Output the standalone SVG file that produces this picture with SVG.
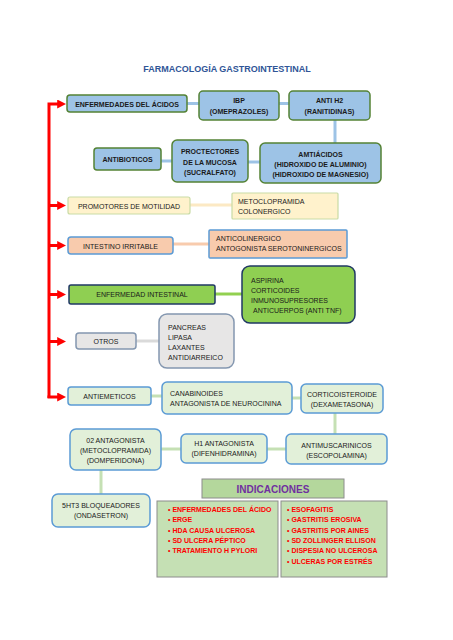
<svg xmlns="http://www.w3.org/2000/svg" width="453" height="640" viewBox="0 0 453 640">
<defs>
<marker id="ah" viewBox="0 0 10 10" refX="2" refY="5" markerWidth="3" markerHeight="3" markerUnits="strokeWidth" orient="auto">
<path d="M0,0 L10,5 L0,10 z" fill="#FF0000"/>
</marker>
<style>
text{font-family:"Liberation Sans",Arial,sans-serif;font-size:7px;fill:#1a1a1a}
.c{text-anchor:middle}
.b{font-weight:bold}
.acid rect{fill:#9DC3E6;stroke:#548235;stroke-width:1.5}
.prom rect{fill:#FFF2CC;stroke:#C9DBA5;stroke-width:1.2}
.irr rect{fill:#F8CBAD;stroke:#5B9BD5;stroke-width:1.5}
.ei rect{fill:#8FCF52;stroke:#203864;stroke-width:1.5}
.ot rect{fill:#E7E6E6;stroke:#8497B0;stroke-width:1.5}
.ae rect{fill:#E2F0D9;stroke:#5B9BD5;stroke-width:1.5}
.ind rect{fill:#C5E0B4;stroke:#8C8C8C;stroke-width:1}
.red{fill:#FF0000;font-weight:bold;font-size:7px}
</style>
</defs>
<rect width="453" height="640" fill="#FFFFFF"/>
<text x="227" y="72" class="c b" style="font-size:9px;fill:#2F5597">FARMACOLOGÍA GASTROINTESTINAL</text>

<g id="connectors" fill="none">
<g stroke="#9DC3E6" stroke-width="3">
<line x1="187" y1="103.5" x2="199" y2="103.5"/>
<line x1="279" y1="103.5" x2="289" y2="103.5"/>
<line x1="335" y1="120" x2="335" y2="143"/>
<line x1="161" y1="161" x2="172" y2="161"/>
<line x1="248" y1="162" x2="260" y2="162"/>
</g>
<line x1="190" y1="205" x2="232" y2="205" stroke="#FCE9C4" stroke-width="3"/>
<line x1="173" y1="244" x2="209" y2="244" stroke="#F8CBAD" stroke-width="3"/>
<line x1="215" y1="294" x2="242" y2="294" stroke="#92D050" stroke-width="3"/>
<line x1="136" y1="341" x2="159" y2="341" stroke="#DADADA" stroke-width="3"/>
<g stroke="#C5E0B4" stroke-width="3">
<line x1="151" y1="396" x2="162" y2="396"/>
<line x1="292" y1="398" x2="301" y2="398"/>
<line x1="335" y1="413" x2="335" y2="434"/>
<line x1="267" y1="449" x2="286" y2="449"/>
<line x1="161" y1="449" x2="181" y2="449"/>
<line x1="101" y1="470" x2="101" y2="494"/>
</g>
<g stroke="#FF0000" stroke-width="3">
<path d="M49,398 L49,104 L59,104" marker-end="url(#ah)"/>
<line x1="49" y1="205.5" x2="59" y2="205.5" marker-end="url(#ah)"/>
<line x1="49" y1="245.5" x2="59" y2="245.5" marker-end="url(#ah)"/>
<line x1="49" y1="294.5" x2="59" y2="294.5" marker-end="url(#ah)"/>
<line x1="49" y1="341.5" x2="59" y2="341.5" marker-end="url(#ah)"/>
<line x1="47.5" y1="397" x2="59" y2="397" marker-end="url(#ah)"/>
</g>
</g>

<g id="enfermedades-acidos" class="acid"><rect x="67" y="95" width="120" height="17" rx="3"/><text x="127" y="106.5" class="c b">ENFERMEDADES DEL ÁCIDOS</text></g>
<g id="ibp" class="acid"><rect x="199" y="91" width="80" height="29" rx="4"/><text x="239" y="103" class="c b">IBP</text><text x="239" y="114" class="c b">(OMEPRAZOLES)</text></g>
<g id="anti-h2" class="acid"><rect x="289" y="91" width="81" height="29" rx="4"/><text x="329.5" y="103" class="c b">ANTI H2</text><text x="329.5" y="114" class="c b">(RANITIDINAS)</text></g>
<g id="antibioticos" class="acid"><rect x="94" y="148" width="67" height="22" rx="3"/><text x="127.5" y="161.5" class="c b">ANTIBIOTICOS</text></g>
<g id="proctectores" class="acid"><rect x="172" y="140" width="76" height="42" rx="5"/><text x="210" y="154" class="c b">PROCTECTORES</text><text x="210" y="164.5" class="c b">DE LA MUCOSA</text><text x="210" y="174.5" class="c b">(SUCRALFATO)</text></g>
<g id="amtiacidos" class="acid"><rect x="260" y="143" width="121" height="40" rx="5"/><text x="320.5" y="156.5" class="c b">AMTIÁCIDOS</text><text x="320.5" y="166.5" class="c b">(HIDROXIDO DE ALUMINIO)</text><text x="320.5" y="176.5" class="c b">(HIDROXIDO DE MAGNESIO)</text></g>

<g id="promotores" class="prom"><rect x="68" y="197" width="122" height="17" rx="2"/><text x="129" y="208.5" class="c">PROMOTORES DE MOTILIDAD</text></g>
<g id="metoclopramida" class="prom"><rect x="232" y="193" width="106" height="26" rx="1"/><text x="238" y="203.5">METOCLOPRAMIDA</text><text x="238" y="213.5">COLONERGICO</text></g>

<g id="intestino-irritable" class="irr"><rect x="68" y="237" width="105" height="17" rx="3"/><text x="120.5" y="248.5" class="c">INTESTINO IRRITABLE</text></g>
<g id="anticolinergico" class="irr"><rect x="209" y="230" width="138" height="28" rx="1"/><text x="216" y="240.5">ANTICOLINERGICO</text><text x="216" y="250.5">ANTOGONISTA SEROTONINERGICOS</text></g>

<g id="enfermedad-intestinal" class="ei"><rect x="69" y="285" width="146" height="19" rx="2"/><text x="142" y="297" class="c">ENFERMEDAD INTESTINAL</text></g>
<g id="aspirina" class="ei"><rect x="242" y="266" width="113" height="57" rx="8"/><text x="251" y="282.5">ASPIRINA</text><text x="251" y="292.5">CORTICOIDES</text><text x="251" y="302.5">INMUNOSUPRESORES</text><text x="253" y="313">ANTICUERPOS (ANTI TNF)</text></g>

<g id="otros" class="ot"><rect x="76" y="333" width="60" height="16" rx="3"/><text x="106" y="343.5" class="c">OTROS</text></g>
<g id="pancreas" class="ot"><rect x="159" y="314" width="75" height="54" rx="8"/><text x="168" y="329.5">PANCREAS</text><text x="168" y="339.5">LIPASA</text><text x="168" y="349.5">LAXANTES</text><text x="168" y="359.5">ANTIDIARREICO</text></g>

<g id="antiemeticos" class="ae"><rect x="68" y="387" width="83" height="18" rx="3"/><text x="109.5" y="398.5" class="c">ANTIEMETICOS</text></g>
<g id="canabinoides" class="ae"><rect x="162" y="382" width="130" height="32" rx="5"/><text x="170" y="395.5">CANABINOIDES</text><text x="170" y="405.5">ANTAGONISTA DE NEUROCININA</text></g>
<g id="corticoisteroide" class="ae"><rect x="301" y="384" width="82" height="29" rx="5"/><text x="342" y="396.5" class="c">CORTICOISTEROIDE</text><text x="342" y="406.5" class="c">(DEXAMETASONA)</text></g>
<g id="antimuscarinicos" class="ae"><rect x="286" y="434" width="101" height="30" rx="5"/><text x="336.5" y="447.5" class="c">ANTIMUSCARINICOS</text><text x="336.5" y="457.5" class="c">(ESCOPOLAMINA)</text></g>
<g id="h1-antagonista" class="ae"><rect x="181" y="434" width="86" height="29" rx="5"/><text x="224" y="445.5" class="c">H1 ANTAGONISTA</text><text x="224" y="455.5" class="c">(DIFENHIDRAMINA)</text></g>
<g id="d2-antagonista" class="ae"><rect x="70" y="429" width="91" height="41" rx="6"/><text x="115.5" y="442.5" class="c">02 ANTAGONISTA</text><text x="115.5" y="452.5" class="c">(METOCLOPRAMIDA)</text><text x="115.5" y="462.5" class="c">(DOMPERIDONA)</text></g>
<g id="5ht3" class="ae"><rect x="52" y="494" width="98" height="33" rx="6"/><text x="101" y="507.5" class="c">5HT3 BLOQUEADORES</text><text x="101" y="517.5" class="c">(ONDASETRON)</text></g>

<g id="indicaciones" class="ind">
<rect x="202" y="479" width="142" height="19" style="fill:#B4D79C"/>
<text x="273" y="493" class="c b" style="font-size:10px;fill:#7030A0">INDICACIONES</text>
</g>
<g id="indicaciones-izq" class="ind">
<rect x="157" y="501" width="121" height="76"/>
<text x="168" y="511.5" class="red">• ENFERMEDADES DEL ÁCIDO</text>
<text x="168" y="522" class="red">• ERGE</text>
<text x="168" y="532.5" class="red">• HDA CAUSA ULCEROSA</text>
<text x="168" y="543" class="red">• SD ULCERA PÉPTICO</text>
<text x="168" y="553" class="red">• TRATAMIENTO H PYLORI</text>
</g>
<g id="indicaciones-der" class="ind">
<rect x="281" y="501" width="106" height="76"/>
<text x="287" y="511.5" class="red">• ESOFAGITIS</text>
<text x="287" y="522" class="red">• GASTRITIS EROSIVA</text>
<text x="287" y="532.5" class="red">• GASTRITIS POR AINES</text>
<text x="287" y="543" class="red">• SD ZOLLINGER ELLISON</text>
<text x="287" y="553" class="red">• DISPESIA NO ULCEROSA</text>
<text x="287" y="563.5" class="red">• ULCERAS POR ESTRÉS</text>
</g>
</svg>
